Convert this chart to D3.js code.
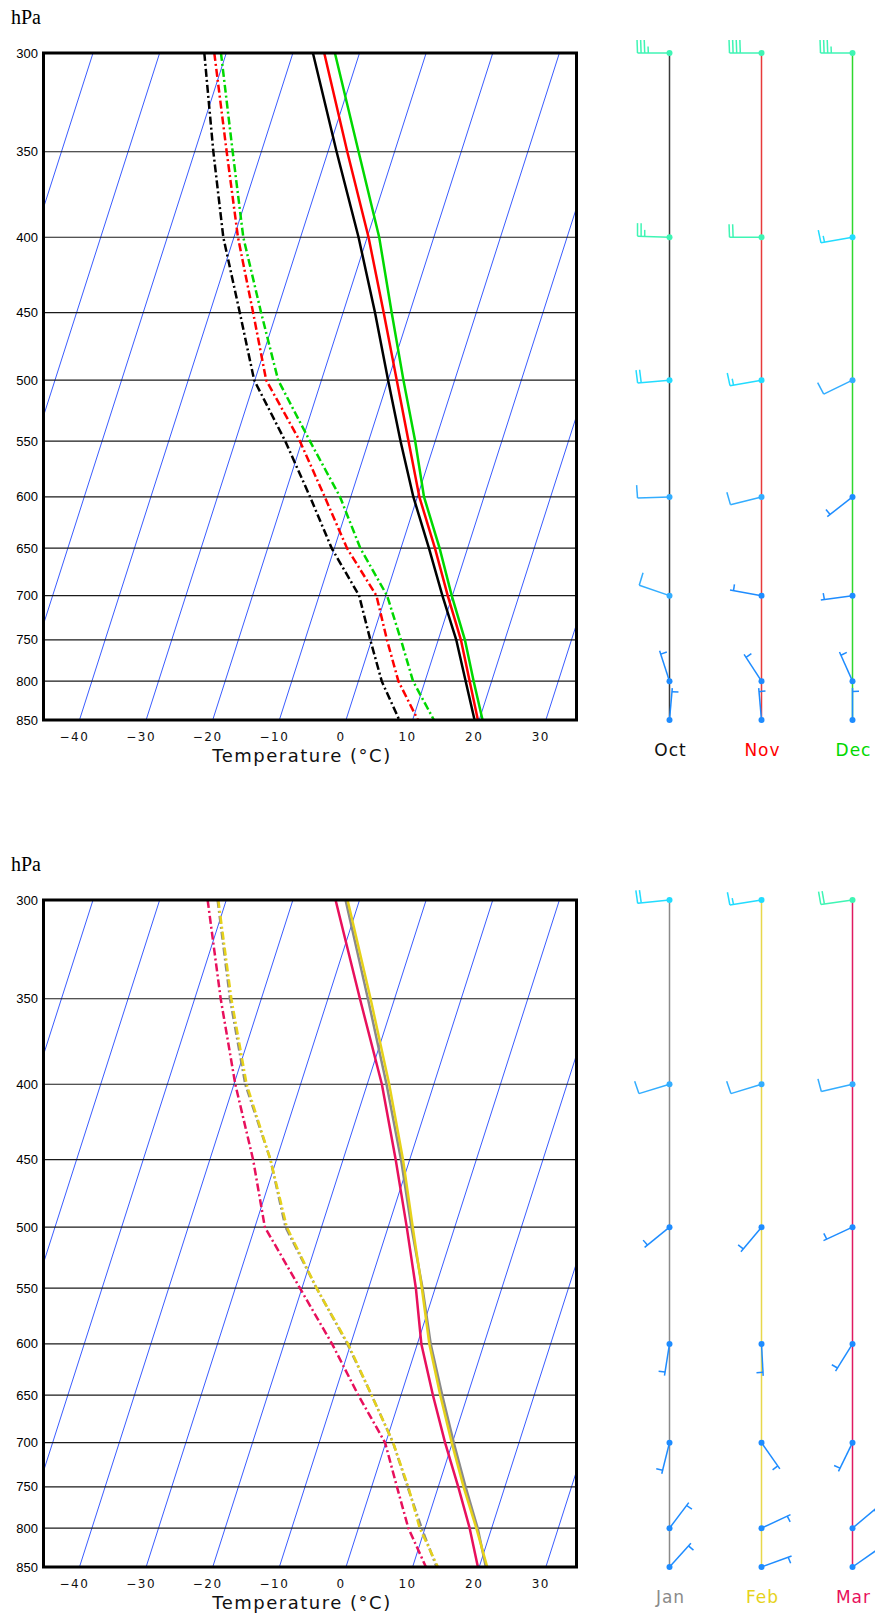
<!DOCTYPE html>
<html>
<head>
<meta charset="utf-8">
<script src="https://cdn.jsdelivr.net/npm/d3@7"></script>
<style>
  body { margin: 0; background: #fff; }
  svg { display: block; }
  .tick-lbl { font-family: "DejaVu Sans", sans-serif; font-size: 12px; fill: #111; letter-spacing: 1.5px; }
  .p-lbl { font-family: "Liberation Sans", Arial, sans-serif; font-size: 13px; fill: #000; }
  .unit { font-family: "Liberation Serif", "Times New Roman", serif; font-size: 20px; fill: #000; }
  .axis-title { font-family: "DejaVu Sans", sans-serif; font-size: 18px; fill: #111; letter-spacing: 1.5px; }
  .month { font-family: "DejaVu Sans", sans-serif; font-size: 17px; letter-spacing: 1px; }
</style>
</head>
<body>
<div id="chart"></div>
<script>
// pressure levels of the soundings (hPa)
const levels = [300, 350, 400, 450, 500, 550, 600, 650, 700, 750, 800, 850];

// temperature / dew point (degC) per month, same order as levels
const octT  = [-37.0, -28.7, -21.3, -15.2, -10.0, -5.2, -0.6, 4.2, 8.5, 12.7, 16.1, 19.3];
const octTd = [-53.3, -47.2, -41.6, -35.5, -30.1, -22.5, -16.1, -10.4, -4.0, -0.2, 3.5, 8.0];
const novT  = [-35.3, -27.1, -19.8, -13.9, -8.7, -4.0, 0.3, 5.1, 9.3, 13.4, 16.7, 19.8];
const novTd = [-51.8, -45.2, -39.4, -33.5, -28.3, -20.3, -13.9, -8.1, -1.4, 2.3, 6.0, 10.8];
const decT  = [-33.7, -25.4, -18.2, -12.7, -7.7, -3.0, 1.0, 5.8, 9.9, 14.0, 17.3, 20.5];
const decTd = [-50.8, -44.3, -38.6, -32.3, -26.5, -18.8, -11.6, -6.1, 0.2, 4.4, 8.2, 13.2];

const janT  = [-32.1, -24.0, -17.1, -11.3, -6.5, -1.9, 2.0, 6.2, 10.2, 14.1, 17.9, 21.0];
const janTd = [-51.3, -44.7, -38.3, -30.9, -25.4, -17.8, -10.5, -4.4, 1.1, 5.4, 9.5, 13.6];
const febT  = [-31.8, -23.6, -16.7, -11.0, -6.3, -2.0, 1.8, 5.9, 9.9, 13.8, 17.7, 21.2];
const febTd = [-51.2, -44.5, -38.1, -30.9, -25.2, -17.8, -10.4, -4.4, 1.1, 5.5, 9.2, 13.8];
const marT  = [-33.6, -25.2, -17.8, -12.1, -7.2, -2.9, 0.6, 4.8, 8.9, 13.0, 16.7, 19.8];
const marTd = [-52.8, -46.1, -39.8, -33.5, -28.5, -20.3, -12.8, -6.4, -0.1, 3.8, 7.5, 12.0];

// wind levels, direction (deg, blowing from) and speed (kt)
const windLevels = [300, 400, 500, 600, 700, 800, 850];
const octDir = [270, 272, 265, 268, 289, 342, 5];
const octSpd = [35, 25, 18, 12, 10, 6, 5];
const novDir = [270, 270, 260, 256, 280, 327, 355];
const novSpd = [40, 22, 16, 12, 6, 6, 3];
const decDir = [270, 260, 244, 232, 262, 336, 0];
const decSpd = [35, 14, 10, 6, 6, 6, 3];
const janDir = [264, 253, 231, 189, 194, 37, 42];
const janSpd = [18, 10, 6, 5, 3, 3, 3];
const febDir = [261, 253, 220, 177, 145, 65, 70];
const febSpd = [16, 10, 6, 5, 5, 5, 3];
const marDir = [262, 257, 245, 212, 206, 50, 55];
const marSpd = [22, 10, 6, 5, 5, 3, 3];

const tempTicks = [-40, -30, -20, -10, 0, 10, 20, 30];
const pTicks = [300, 350, 400, 450, 500, 550, 600, 650, 700, 750, 800, 850];

const width = 875, height = 1613;
const plotLeft = 43.5, plotRight = 576.5, plotTop = 53, plotBottom = 720;
const panelShift = 847;
const skew = 0.32;

const svg = d3.select("#chart").append("svg")
  .attr("width", width).attr("height", height);

const x = d3.scaleLinear().domain([-45.4, 34.6]).range([plotLeft, plotRight]);
const y = d3.scaleLog().domain([300, 850]).range([plotTop, plotBottom]);
const spdColor = d3.scaleThreshold()
  .domain([8, 13, 21])
  .range(["#1e8cff", "#33adff", "#22dcff", "#3ff5b4"]);

// skewed position for a temperature at a pressure
function sx(t, p) {
  return x(t) + skew * (y(850) - y(p));
}

function drawPanel(g, id, months) {
  g.append("clipPath").attr("id", id)
    .append("rect").attr("x", plotLeft).attr("y", plotTop)
    .attr("width", plotRight - plotLeft).attr("height", plotBottom - plotTop);

  const plot = g.append("g").attr("clip-path", `url(#${id})`);

  // isotherms
  plot.selectAll(".iso").data(d3.range(-110, 50, 10)).join("line")
    .attr("x1", d => sx(d, 850)).attr("y1", y(850))
    .attr("x2", d => sx(d, 300)).attr("y2", y(300))
    .attr("stroke", "#3a5cff").attr("stroke-width", 1);

  // isobars
  plot.selectAll(".isobar").data(pTicks.slice(1, -1)).join("line")
    .attr("x1", plotLeft).attr("x2", plotRight)
    .attr("y1", d => y(d)).attr("y2", d => y(d))
    .attr("stroke", "#1a1a1a").attr("stroke-width", 1.2);

  const line = d3.line()
    .x(d => sx(d[1], d[0]))
    .y(d => y(d[0]));

  months.forEach(m => {
    plot.append("path")
      .attr("d", line(d3.zip(levels, m.td)))
      .attr("fill", "none").attr("stroke", m.color)
      .attr("stroke-width", 2.5).attr("stroke-dasharray", "8,3,2,3");
  });
  months.forEach(m => {
    plot.append("path")
      .attr("d", line(d3.zip(levels, m.t)))
      .attr("fill", "none").attr("stroke", m.color)
      .attr("stroke-width", 2.5);
  });

  // frame
  g.append("rect").attr("x", plotLeft).attr("y", plotTop)
    .attr("width", plotRight - plotLeft).attr("height", plotBottom - plotTop)
    .attr("fill", "none").attr("stroke", "#000").attr("stroke-width", 3);

  g.selectAll(".plbl").data(pTicks).join("text")
    .attr("class", "p-lbl")
    .attr("x", 38).attr("y", d => y(d))
    .attr("dy", "0.35em").attr("text-anchor", "end")
    .text(d => d);

  g.selectAll(".tlbl").data(tempTicks).join("text")
    .attr("class", "tick-lbl")
    .attr("x", d => x(d) - 5).attr("y", 741)
    .attr("text-anchor", "middle")
    .text(d => d < 0 ? "\u2212" + Math.abs(d) : d);

  g.append("text").attr("class", "axis-title")
    .attr("x", 302).attr("y", 762).attr("text-anchor", "middle")
    .text("Temperature (°C)");

  g.append("text").attr("class", "unit")
    .attr("x", 11).attr("y", 24).text("hPa");

  // wind profiles
  const colX = [669.5, 761.5, 852.5];
  months.forEach((m, i) => {
    const cx = colX[i];
    const wg = g.append("g");
    wg.append("line")
      .attr("x1", cx).attr("x2", cx).attr("y1", y(300)).attr("y2", y(850))
      .attr("stroke", m.line).attr("stroke-width", 1.5);
    windLevels.forEach((p, k) => {
      drawBarb(wg, cx, y(p), m.dir[k], m.spd[k]);
    });
    wg.append("text").attr("class", "month")
      .attr("x", cx + 1).attr("y", 756).attr("text-anchor", "middle")
      .attr("fill", m.color === "#000000" ? "#111" : m.color)
      .text(m.name);
  });
}

function drawBarb(g, cx, cy, dir, spd) {
  const col = spdColor(spd);
  const L = 32, B = 13, gap = 3.6;
  const a = dir * Math.PI / 180;
  const ux = Math.sin(a), uy = -Math.cos(a);
  const b = (dir + 88) * Math.PI / 180;
  const bx = Math.sin(b), by = -Math.cos(b);
  const tipX = cx + L * ux, tipY = cy + L * uy;
  g.append("line").attr("x1", cx).attr("y1", cy).attr("x2", tipX).attr("y2", tipY)
    .attr("stroke", col).attr("stroke-width", 1.5);
  const r = Math.round(spd / 5) * 5;
  const full = Math.floor(r / 10);
  const half = r % 10 === 5;
  let pos = 0;
  for (let i = 0; i < full; i++) {
    const px = tipX - pos * ux, py = tipY - pos * uy;
    g.append("line").attr("x1", px).attr("y1", py)
      .attr("x2", px + B * bx).attr("y2", py + B * by)
      .attr("stroke", col).attr("stroke-width", 1.5);
    pos += gap;
  }
  if (half) {
    if (full === 0) pos = gap;
    const px = tipX - pos * ux, py = tipY - pos * uy;
    g.append("line").attr("x1", px).attr("y1", py)
      .attr("x2", px + B * 0.5 * bx).attr("y2", py + B * 0.5 * by)
      .attr("stroke", col).attr("stroke-width", 1.5);
  }
  g.append("circle").attr("cx", cx).attr("cy", cy).attr("r", 3).attr("fill", col);
}

const topMonths = [
  { name: "Oct", color: "#000000", line: "#3a3a3a", t: octT, td: octTd, dir: octDir, spd: octSpd },
  { name: "Nov", color: "#ff0000", line: "#e83a3a", t: novT, td: novTd, dir: novDir, spd: novSpd },
  { name: "Dec", color: "#00d800", line: "#2ed82e", t: decT, td: decTd, dir: decDir, spd: decSpd }
];
const bottomMonths = [
  { name: "Jan", color: "#8a8a8a", line: "#8a8a8a", t: janT, td: janTd, dir: janDir, spd: janSpd },
  { name: "Feb", color: "#e6d21a", line: "#e8d84a", t: febT, td: febTd, dir: febDir, spd: febSpd },
  { name: "Mar", color: "#e8105c", line: "#e01a60", t: marT, td: marTd, dir: marDir, spd: marSpd }
];

drawPanel(svg.append("g"), "clipTop", topMonths);
drawPanel(svg.append("g").attr("transform", `translate(0,${panelShift})`), "clipBottom", bottomMonths);
</script>
</body>
</html>
